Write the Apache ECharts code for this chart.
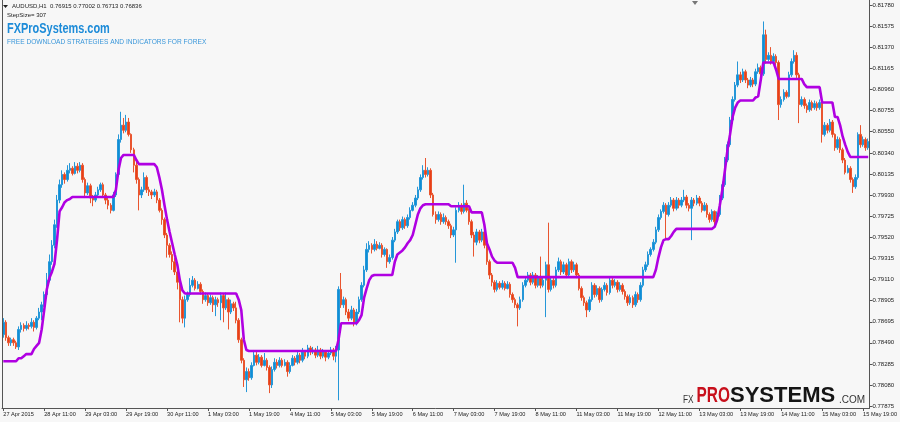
<!DOCTYPE html>
<html>
<head>
<meta charset="utf-8">
<script src="https://cdn.jsdelivr.net/npm/echarts@6.0.0/dist/echarts.min.js"></script>
<style>
html,body{margin:0;padding:0;background:#F7F7F7;}
#chart{width:900px;height:422px;}
</style>
</head>
<body>
<div id="chart"></div>
<script>
// x-axis tick labels (one every 16 hourly bars)
const xTickLabels = ["27 Apr 2015","28 Apr 11:00","29 Apr 03:00","29 Apr 19:00","30 Apr 11:00","1 May 03:00","1 May 19:00","4 May 11:00","5 May 03:00","5 May 19:00","6 May 11:00","7 May 03:00","7 May 19:00","8 May 11:00","11 May 03:00","11 May 19:00","12 May 11:00","13 May 03:00","13 May 19:00","14 May 11:00","15 May 03:00","15 May 19:00"];
// y-axis price labels
const yTickLabels = [0.77875,0.78080,0.78285,0.78490,0.78695,0.78905,0.79110,0.79315,0.79520,0.79725,0.79930,0.80135,0.80340,0.80550,0.80755,0.80960,0.81165,0.81370,0.81575,0.81780];
// candles: [open, close, low, high]
const candles = [
[0.7857,0.7869,0.7854,0.7873],[0.7869,0.7854,0.7851,0.7871],[0.7854,0.7849,0.7846,0.7856],[0.7849,0.7852,0.7846,0.7854],[0.7852,0.7849,0.7846,0.7854],
[0.7849,0.7845,0.7843,0.7851],[0.7845,0.7862,0.7842,0.7865],[0.7862,0.7866,0.7859,0.7869],[0.7866,0.7863,0.7860,0.7868],[0.7863,0.7866,0.7861,0.7870],
[0.7866,0.7865,0.7862,0.7868],[0.7865,0.7869,0.7863,0.7873],[0.7869,0.7864,0.7860,0.7871],[0.7864,0.7873,0.7862,0.7875],[0.7873,0.7879,0.7871,0.7883],
[0.7879,0.7886,0.7871,0.7889],[0.7886,0.7896,0.7884,0.7899],[0.7896,0.7910,0.7894,0.7917],[0.7910,0.7928,0.7908,0.7935],[0.7928,0.7944,0.7925,0.7949],
[0.7944,0.7964,0.7941,0.7969],[0.7964,0.7988,0.7961,0.7993],[0.7988,0.8003,0.7985,0.8008],[0.8003,0.8013,0.8000,0.8017],[0.8013,0.8008,0.8004,0.8015],
[0.8008,0.8017,0.8006,0.8022],[0.8017,0.8019,0.8014,0.8024],[0.8019,0.8014,0.8012,0.8021],[0.8014,0.8021,0.8013,0.8025],[0.8021,0.8017,0.8014,0.8024],
[0.8017,0.8022,0.8015,0.8025],[0.8022,0.8008,0.8005,0.8024],[0.8008,0.7995,0.7990,0.8010],[0.7995,0.8002,0.7993,0.8005],[0.8002,0.7990,0.7985,0.8004],
[0.7990,0.7988,0.7982,0.7993],[0.7988,0.7993,0.7986,0.7996],[0.7993,0.7998,0.7991,0.8001],[0.7998,0.8003,0.7996,0.8005],[0.8003,0.7993,0.7990,0.8005],
[0.7993,0.7988,0.7984,0.7995],[0.7988,0.7983,0.7979,0.7990],[0.7983,0.7978,0.7975,0.7985],[0.7978,0.7993,0.7977,0.7996],[0.7993,0.8013,0.7991,0.8015],
[0.8013,0.8047,0.8011,0.8052],[0.8047,0.8061,0.8044,0.8074],[0.8061,0.8056,0.8053,0.8068],[0.8056,0.8064,0.8054,0.8071],[0.8064,0.8052,0.8050,0.8068],
[0.8052,0.8037,0.8034,0.8053],[0.8037,0.8022,0.8015,0.8039],[0.8022,0.8008,0.8004,0.8027],[0.8008,0.7993,0.7978,0.8010],[0.7993,0.7998,0.7990,0.8001],
[0.7998,0.8010,0.7996,0.8015],[0.8010,0.7998,0.7995,0.8012],[0.7998,0.7996,0.7992,0.8001],[0.7996,0.7993,0.7989,0.7998],[0.7993,0.7996,0.7991,0.7999],
[0.7996,0.7988,0.7985,0.7998],[0.7988,0.7978,0.7976,0.7990],[0.7978,0.7969,0.7964,0.7980],[0.7969,0.7954,0.7951,0.7971],[0.7954,0.7944,0.7932,0.7956],
[0.7944,0.7935,0.7932,0.7946],[0.7935,0.7928,0.7920,0.7938],[0.7928,0.7918,0.7915,0.7932],[0.7918,0.7908,0.7901,0.7920],[0.7908,0.7891,0.7869,0.7910],
[0.7891,0.7873,0.7868,0.7894],[0.7873,0.7891,0.7864,0.7895],[0.7891,0.7896,0.7889,0.7899],[0.7896,0.7905,0.7894,0.7912],[0.7905,0.7910,0.7903,0.7914],
[0.7910,0.7902,0.7900,0.7912],[0.7902,0.7906,0.7901,0.7909],[0.7906,0.7899,0.7896,0.7908],[0.7899,0.7891,0.7887,0.7901],[0.7891,0.7895,0.7889,0.7898],
[0.7895,0.7888,0.7885,0.7897],[0.7888,0.7893,0.7886,0.7896],[0.7893,0.7886,0.7879,0.7895],[0.7886,0.7891,0.7875,0.7894],[0.7891,0.7888,0.7884,0.7893],
[0.7888,0.7895,0.7871,0.7898],[0.7895,0.7883,0.7869,0.7897],[0.7883,0.7891,0.7881,0.7898],[0.7891,0.7879,0.7862,0.7893],[0.7879,0.7887,0.7877,0.7891],
[0.7887,0.7883,0.7880,0.7889],[0.7883,0.7871,0.7868,0.7889],[0.7871,0.7852,0.7849,0.7873],[0.7852,0.7832,0.7829,0.7854],[0.7832,0.7813,0.7806,0.7834],
[0.7813,0.7821,0.7801,0.7825],[0.7821,0.7815,0.7812,0.7824],[0.7815,0.7827,0.7813,0.7830],[0.7827,0.7837,0.7826,0.7842],[0.7837,0.7830,0.7827,0.7840],
[0.7830,0.7835,0.7828,0.7838],[0.7835,0.7827,0.7825,0.7837],[0.7827,0.7832,0.7826,0.7839],[0.7832,0.7825,0.7822,0.7834],[0.7825,0.7808,0.7800,0.7827],
[0.7808,0.7823,0.7805,0.7826],[0.7823,0.7830,0.7821,0.7834],[0.7830,0.7827,0.7824,0.7833],[0.7827,0.7832,0.7825,0.7835],[0.7832,0.7827,0.7825,0.7834],
[0.7827,0.7830,0.7826,0.7833],[0.7830,0.7821,0.7816,0.7832],[0.7821,0.7827,0.7819,0.7830],[0.7827,0.7834,0.7826,0.7837],[0.7834,0.7830,0.7827,0.7836],
[0.7830,0.7837,0.7828,0.7840],[0.7837,0.7832,0.7829,0.7839],[0.7832,0.7840,0.7830,0.7844],[0.7840,0.7836,0.7833,0.7842],[0.7836,0.7844,0.7834,0.7847],
[0.7844,0.7840,0.7837,0.7846],[0.7840,0.7842,0.7838,0.7845],[0.7842,0.7837,0.7834,0.7844],[0.7837,0.7842,0.7835,0.7846],[0.7842,0.7836,0.7833,0.7844],
[0.7836,0.7840,0.7834,0.7843],[0.7840,0.7835,0.7831,0.7842],[0.7835,0.7839,0.7833,0.7842],[0.7839,0.7842,0.7837,0.7845],[0.7842,0.7836,0.7832,0.7844],
[0.7836,0.7842,0.7830,0.7846],[0.7842,0.7901,0.7793,0.7904],[0.7901,0.7886,0.7883,0.7917],[0.7886,0.7891,0.7883,0.7894],[0.7891,0.7879,0.7876,0.7893],
[0.7879,0.7873,0.7870,0.7882],[0.7873,0.7881,0.7871,0.7885],[0.7881,0.7869,0.7865,0.7883],[0.7869,0.7879,0.7866,0.7882],[0.7879,0.7891,0.7877,0.7894],
[0.7891,0.7905,0.7889,0.7908],[0.7905,0.7920,0.7903,0.7924],[0.7920,0.7940,0.7918,0.7946],[0.7940,0.7944,0.7937,0.7948],[0.7944,0.7940,0.7936,0.7946],
[0.7940,0.7945,0.7938,0.7950],[0.7945,0.7941,0.7939,0.7948],[0.7941,0.7944,0.7940,0.7947],[0.7944,0.7935,0.7932,0.7946],[0.7935,0.7940,0.7933,0.7942],
[0.7940,0.7928,0.7922,0.7941],[0.7928,0.7932,0.7926,0.7935],[0.7932,0.7949,0.7930,0.7952],[0.7949,0.7957,0.7947,0.7960],[0.7957,0.7967,0.7955,0.7969],
[0.7967,0.7961,0.7958,0.7969],[0.7961,0.7969,0.7959,0.7972],[0.7969,0.7963,0.7960,0.7971],[0.7963,0.7971,0.7961,0.7974],[0.7971,0.7978,0.7969,0.7981],
[0.7978,0.7983,0.7977,0.7986],[0.7983,0.7990,0.7981,0.7993],[0.7990,0.7998,0.7988,0.8001],[0.7998,0.8010,0.7996,0.8013],[0.8010,0.8017,0.8008,0.8022],
[0.8017,0.8013,0.8010,0.8029],[0.8013,0.8017,0.8011,0.8020],[0.8017,0.7993,0.7990,0.8019],[0.7993,0.7974,0.7972,0.7995],[0.7974,0.7969,0.7965,0.7977],
[0.7969,0.7974,0.7967,0.7977],[0.7974,0.7967,0.7964,0.7976],[0.7967,0.7971,0.7965,0.7975],[0.7971,0.7967,0.7964,0.7973],[0.7967,0.7963,0.7960,0.7969],
[0.7963,0.7954,0.7951,0.7965],[0.7954,0.7959,0.7952,0.7962],[0.7959,0.7978,0.7927,0.7981],[0.7978,0.7983,0.7976,0.7986],[0.7983,0.7977,0.7974,0.7985],
[0.7977,0.7985,0.7975,0.8003],[0.7985,0.7978,0.7976,0.7988],[0.7978,0.7967,0.7964,0.7980],[0.7967,0.7954,0.7951,0.7969],[0.7954,0.7947,0.7933,0.7957],
[0.7947,0.7957,0.7944,0.7960],[0.7957,0.7949,0.7946,0.7959],[0.7949,0.7957,0.7947,0.7960],[0.7957,0.7944,0.7941,0.7959],[0.7944,0.7928,0.7925,0.7946],
[0.7928,0.7915,0.7911,0.7930],[0.7915,0.7908,0.7904,0.7917],[0.7908,0.7901,0.7898,0.7910],[0.7901,0.7907,0.7899,0.7910],[0.7907,0.7903,0.7901,0.7909],
[0.7903,0.7907,0.7901,0.7910],[0.7907,0.7902,0.7900,0.7909],[0.7902,0.7906,0.7901,0.7909],[0.7906,0.7896,0.7893,0.7908],[0.7896,0.7891,0.7888,0.7898],
[0.7891,0.7886,0.7883,0.7893],[0.7886,0.7883,0.7865,0.7888],[0.7883,0.7891,0.7881,0.7894],[0.7891,0.7905,0.7889,0.7908],[0.7905,0.7910,0.7903,0.7913],
[0.7910,0.7915,0.7908,0.7918],[0.7915,0.7908,0.7905,0.7917],[0.7908,0.7915,0.7906,0.7918],[0.7915,0.7905,0.7902,0.7917],[0.7905,0.7912,0.7903,0.7915],
[0.7912,0.7905,0.7902,0.7933],[0.7905,0.7910,0.7903,0.7913],[0.7910,0.7925,0.7874,0.7928],[0.7925,0.7901,0.7898,0.7966],[0.7901,0.7910,0.7899,0.7913],
[0.7910,0.7905,0.7902,0.7912],[0.7905,0.7920,0.7903,0.7923],[0.7920,0.7928,0.7918,0.7932],[0.7928,0.7918,0.7915,0.7930],[0.7918,0.7925,0.7916,0.7928],
[0.7925,0.7915,0.7912,0.7927],[0.7915,0.7928,0.7913,0.7931],[0.7928,0.7920,0.7917,0.7930],[0.7920,0.7925,0.7918,0.7928],[0.7925,0.7915,0.7912,0.7927],
[0.7915,0.7902,0.7900,0.7917],[0.7902,0.7893,0.7890,0.7904],[0.7893,0.7888,0.7885,0.7895],[0.7888,0.7881,0.7874,0.7890],[0.7881,0.7891,0.7879,0.7894],
[0.7891,0.7905,0.7889,0.7908],[0.7905,0.7896,0.7893,0.7907],[0.7896,0.7902,0.7894,0.7905],[0.7902,0.7891,0.7888,0.7904],[0.7891,0.7901,0.7889,0.7903],
[0.7901,0.7905,0.7899,0.7908],[0.7905,0.7898,0.7895,0.7907],[0.7898,0.7910,0.7896,0.7913],[0.7910,0.7905,0.7902,0.7912],[0.7905,0.7908,0.7903,0.7911],
[0.7908,0.7901,0.7898,0.7910],[0.7901,0.7905,0.7899,0.7908],[0.7905,0.7899,0.7896,0.7907],[0.7899,0.7894,0.7891,0.7901],[0.7894,0.7888,0.7885,0.7896],
[0.7888,0.7893,0.7886,0.7896],[0.7893,0.7886,0.7883,0.7895],[0.7886,0.7896,0.7884,0.7899],[0.7896,0.7891,0.7888,0.7898],[0.7891,0.7905,0.7889,0.7908],
[0.7905,0.7920,0.7903,0.7923],[0.7920,0.7925,0.7918,0.7928],[0.7925,0.7935,0.7923,0.7938],[0.7935,0.7940,0.7933,0.7942],[0.7940,0.7947,0.7938,0.7950],
[0.7947,0.7959,0.7945,0.7962],[0.7959,0.7971,0.7957,0.7974],[0.7971,0.7977,0.7969,0.7979],[0.7977,0.7983,0.7975,0.7986],[0.7983,0.7974,0.7949,0.7985],
[0.7974,0.7983,0.7972,0.7986],[0.7983,0.7988,0.7981,0.7991],[0.7988,0.7980,0.7977,0.7990],[0.7980,0.7988,0.7978,0.7991],[0.7988,0.7983,0.7980,0.7990],
[0.7983,0.7988,0.7981,0.7991],[0.7988,0.7991,0.7986,0.7998],[0.7991,0.7983,0.7980,0.7993],[0.7983,0.7980,0.7977,0.7985],[0.7980,0.7988,0.7949,0.7991],
[0.7988,0.7985,0.7982,0.7990],[0.7985,0.7990,0.7983,0.7993],[0.7990,0.7985,0.7982,0.7992],[0.7985,0.7978,0.7976,0.7987],[0.7978,0.7983,0.7977,0.7986],
[0.7983,0.7974,0.7971,0.7985],[0.7974,0.7969,0.7966,0.7976],[0.7969,0.7977,0.7967,0.7979],[0.7977,0.7967,0.7962,0.7978],[0.7967,0.7974,0.7965,0.7977],
[0.7974,0.7990,0.7972,0.7993],[0.7990,0.8003,0.7988,0.8006],[0.8003,0.8027,0.8001,0.8030],[0.8027,0.8042,0.8025,0.8045],[0.8042,0.8066,0.8040,0.8069],
[0.8066,0.8086,0.8064,0.8089],[0.8086,0.8100,0.8084,0.8103],[0.8100,0.8110,0.8098,0.8123],[0.8110,0.8105,0.8102,0.8113],[0.8105,0.8113,0.8103,0.8116],
[0.8113,0.8105,0.8102,0.8115],[0.8105,0.8100,0.8097,0.8107],[0.8100,0.8105,0.8098,0.8108],[0.8105,0.8101,0.8098,0.8107],[0.8101,0.8113,0.8099,0.8116],
[0.8113,0.8117,0.8111,0.8121],[0.8117,0.8111,0.8108,0.8119],[0.8111,0.8149,0.8109,0.8162],[0.8149,0.8125,0.8121,0.8154],[0.8125,0.8129,0.8123,0.8132],
[0.8129,0.8123,0.8120,0.8137],[0.8123,0.8128,0.8121,0.8131],[0.8128,0.8122,0.8119,0.8130],[0.8122,0.8081,0.8066,0.8124],[0.8081,0.8086,0.8078,0.8089],
[0.8086,0.8093,0.8084,0.8096],[0.8093,0.8089,0.8087,0.8095],[0.8089,0.8110,0.8088,0.8113],[0.8110,0.8123,0.8108,0.8126],[0.8123,0.8129,0.8121,0.8134],
[0.8129,0.8110,0.8107,0.8132],[0.8110,0.8081,0.8063,0.8112],[0.8081,0.8086,0.8079,0.8089],[0.8086,0.8080,0.8077,0.8088],[0.8080,0.8076,0.8073,0.8082],
[0.8076,0.8083,0.8074,0.8086],[0.8083,0.8078,0.8075,0.8085],[0.8078,0.8082,0.8076,0.8085],[0.8082,0.8078,0.8075,0.8084],[0.8078,0.8083,0.8076,0.8086],
[0.8083,0.8052,0.8044,0.8085],[0.8052,0.8061,0.8050,0.8064],[0.8061,0.8056,0.8053,0.8063],[0.8056,0.8064,0.8054,0.8067],[0.8064,0.8052,0.8049,0.8066],
[0.8052,0.8039,0.8036,0.8053],[0.8039,0.8047,0.8037,0.8050],[0.8047,0.8037,0.8034,0.8049],[0.8037,0.8027,0.8024,0.8039],[0.8027,0.8015,0.8013,0.8029],
[0.8015,0.8019,0.8014,0.8022],[0.8019,0.8008,0.8005,0.8021],[0.8008,0.8001,0.7995,0.8010],[0.8001,0.8010,0.7999,0.8013],[0.8010,0.8052,0.8008,0.8054],
[0.8052,0.8042,0.8039,0.8061],[0.8042,0.8047,0.8040,0.8050],[0.8047,0.8039,0.8036,0.8049],[0.8039,0.8045,0.8037,0.8048]
];
// StepSize indicator line (one value per bar)
const stepLine = [
0.7831,0.7831,0.7831,0.7831,0.7831,0.7831,0.7834,0.7834,0.7836,0.7838,
0.7838,0.7838,0.7843,0.7846,0.7849,0.7862,0.7881,0.7901,0.7912,0.7918,
0.7926,0.7949,0.7977,0.7981,0.7986,0.7988,0.7989,0.7991,0.7991,0.7991,
0.7991,0.7991,0.7991,0.7991,0.7991,0.7991,0.7991,0.7991,0.7991,0.7991,
0.7991,0.7991,0.7991,0.7991,0.7998,0.8017,0.8029,0.8032,0.8032,0.8032,
0.8032,0.8032,0.8027,0.8023,0.8023,0.8023,0.8023,0.8023,0.8023,0.8023,
0.8020,0.8010,0.7998,0.7983,0.7969,0.7957,0.7946,0.7935,0.7925,0.7910,
0.7900,0.7897,0.7897,0.7897,0.7897,0.7897,0.7897,0.7897,0.7897,0.7897,
0.7897,0.7897,0.7897,0.7897,0.7897,0.7897,0.7897,0.7897,0.7897,0.7897,
0.7897,0.7897,0.7891,0.7881,0.7852,0.7842,0.7841,0.7841,0.7841,0.7841,
0.7841,0.7841,0.7841,0.7841,0.7841,0.7841,0.7841,0.7841,0.7841,0.7841,
0.7841,0.7841,0.7841,0.7841,0.7841,0.7841,0.7841,0.7841,0.7841,0.7841,
0.7841,0.7841,0.7841,0.7841,0.7841,0.7841,0.7841,0.7841,0.7841,0.7841,
0.7841,0.7852,0.7868,0.7868,0.7868,0.7868,0.7868,0.7868,0.7868,0.7871,
0.7876,0.7893,0.7902,0.7910,0.7914,0.7915,0.7915,0.7915,0.7915,0.7915,
0.7915,0.7915,0.7915,0.7928,0.7935,0.7937,0.7939,0.7942,0.7946,0.7949,
0.7954,0.7964,0.7974,0.7980,0.7983,0.7984,0.7984,0.7984,0.7984,0.7984,
0.7984,0.7984,0.7984,0.7984,0.7984,0.7982,0.7982,0.7982,0.7982,0.7982,
0.7982,0.7982,0.7982,0.7976,0.7976,0.7976,0.7976,0.7976,0.7964,0.7946,
0.7940,0.7933,0.7929,0.7927,0.7927,0.7927,0.7927,0.7927,0.7927,0.7927,
0.7922,0.7913,0.7913,0.7913,0.7913,0.7913,0.7913,0.7913,0.7913,0.7913,
0.7913,0.7913,0.7913,0.7913,0.7913,0.7913,0.7913,0.7913,0.7913,0.7913,
0.7913,0.7913,0.7913,0.7913,0.7913,0.7913,0.7913,0.7913,0.7913,0.7913,
0.7913,0.7913,0.7913,0.7913,0.7913,0.7913,0.7913,0.7913,0.7913,0.7913,
0.7913,0.7913,0.7913,0.7913,0.7913,0.7913,0.7913,0.7913,0.7913,0.7913,
0.7913,0.7913,0.7913,0.7913,0.7913,0.7920,0.7932,0.7942,0.7949,0.7950,
0.7950,0.7953,0.7957,0.7960,0.7960,0.7960,0.7960,0.7960,0.7960,0.7960,
0.7960,0.7960,0.7960,0.7960,0.7960,0.7960,0.7960,0.7960,0.7962,0.7969,
0.7983,0.7998,0.8017,0.8037,0.8052,0.8069,0.8078,0.8083,0.8085,0.8085,
0.8085,0.8085,0.8085,0.8085,0.8088,0.8089,0.8105,0.8122,0.8122,0.8122,
0.8122,0.8122,0.8115,0.8106,0.8106,0.8106,0.8106,0.8106,0.8106,0.8106,
0.8106,0.8106,0.8106,0.8101,0.8098,0.8098,0.8098,0.8098,0.8098,0.8098,
0.8083,0.8083,0.8083,0.8083,0.8083,0.8069,0.8069,0.8061,0.8050,0.8042,
0.8035,0.8030,0.8030,0.8030,0.8030,0.8030,0.8030,0.8030,0.8030
];

const categories = candles.map((c, i) => i);
const SANS = "'Liberation Sans', Arial, sans-serif";

const chart = echarts.init(document.getElementById('chart'), null, {renderer: 'canvas'});
chart.setOption({
  animation: false,
  backgroundColor: '#F7F7F7',
  grid: {left: 2, right: 27, top: 0, bottom: 14, containLabel: false},
  xAxis: {
    type: 'category',
    data: categories,
    boundaryGap: true,
    axisLine: {show: true, lineStyle: {color: '#555', width: 1}},
    axisTick: {show: true, interval: 15, alignWithLabel: true, length: 3, lineStyle: {color: '#555'}},
    axisLabel: {
      show: true, interval: 15, align: 'left', margin: 3,
      fontSize: 5.6, fontFamily: SANS, color: '#222',
      formatter: (v, idx) => xTickLabels[Math.round(idx / 16)] || ''
    },
    splitLine: {show: false}
  },
  yAxis: {
    type: 'value',
    position: 'right',
    min: 0.77855,
    max: 0.81829,
    scale: true,
    axisLine: {show: true, lineStyle: {color: '#555', width: 1}},
    axisTick: {show: true, length: 3, customValues: yTickLabels, lineStyle: {color: '#555'}},
    axisLabel: {
      show: true, margin: 3, fontSize: 6, fontFamily: SANS, color: '#222',
      customValues: yTickLabels,
      formatter: v => v.toFixed(5)
    },
    splitLine: {show: false}
  },
  series: [
    {
      type: 'candlestick',
      data: candles,
      barWidth: 2,
      itemStyle: {
        color: '#0E8ED6',
        color0: '#E83F17',
        borderColor: '#2597D8',
        borderColor0: '#E9552F',
        borderWidth: 1
      },
      z: 2
    },
    {
      type: 'line',
      data: stepLine,
      showSymbol: false,
      symbol: 'none',
      lineStyle: {color: '#B000E2', width: 2.6},
      z: 3
    }
  ],
  graphic: [
    {type: 'line', shape: {x1: 2.5, y1: 0, x2: 2.5, y2: 408}, style: {stroke: '#555', lineWidth: 1}, z: 10},
    {type: 'polygon', shape: {points: [[3, 5], [8, 5], [5.5, 8]]}, style: {fill: '#222'}, z: 10},
    {type: 'polygon', shape: {points: [[692, 1], [698, 1], [695, 5]]}, style: {fill: '#777'}, z: 10},
    {type: 'text', x: 12, y: 6.5, style: {text: 'AUDUSD,H1  0.76915 0.77002 0.76713 0.76836', fontSize: 6, fontFamily: SANS, fill: '#222', verticalAlign: 'middle'}, z: 10},
    {type: 'text', x: 7, y: 15.5, style: {text: 'StepSize= 307', fontSize: 6, fontFamily: SANS, fill: '#222', verticalAlign: 'middle'}, z: 10},
    {type: 'text', x: 7, y: 29, scaleX: 0.73, style: {x: 0, y: 0, text: 'FXProSystems.com', fontSize: 15, fontWeight: 'bold', fontFamily: SANS, fill: '#1C8BD8', verticalAlign: 'middle'}, z: 10},
    {type: 'text', x: 7, y: 42, style: {text: 'FREE DOWNLOAD STRATEGIES AND INDICATORS FOR FOREX', fontSize: 6.6, fontFamily: SANS, fill: '#3A97DA', verticalAlign: 'middle'}, z: 10},
    {type: 'text', x: 683, y: 405.5, scaleX: 0.78, style: {x: 0, y: 0, text: 'FX', fontSize: 10.6, fontFamily: SANS, fill: '#333', verticalAlign: 'bottom'}, z: 10},
    {type: 'text', x: 696.5, y: 407, scaleX: 0.7, style: {x: 0, y: 0, text: 'PRO', fontSize: 22, fontWeight: 'bold', fontFamily: SANS, fill: '#C8101C', verticalAlign: 'bottom'}, z: 10},
    {type: 'text', x: 730, y: 407, style: {text: 'SYSTEMS', fontSize: 22, fontWeight: 'bold', fontFamily: SANS, fill: '#151515', verticalAlign: 'bottom'}, z: 10},
    {type: 'text', x: 839, y: 405.5, style: {text: '.COM', fontSize: 10, fontFamily: SANS, fill: '#333', verticalAlign: 'bottom'}, z: 10}
  ]
});
</script>
</body>
</html>
